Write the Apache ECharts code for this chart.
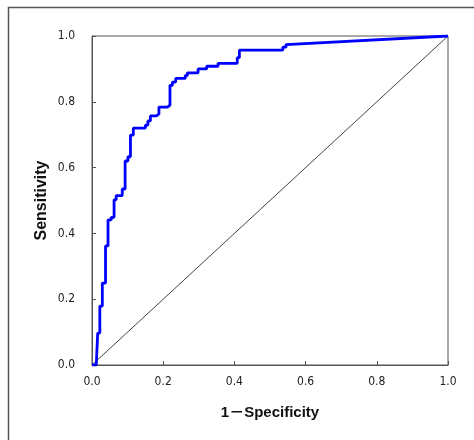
<!DOCTYPE html>
<html>
<head>
<meta charset="utf-8">
<script src="https://cdn.jsdelivr.net/npm/echarts@6/dist/echarts.min.js"></script>
<style>
  html, body { margin: 0; padding: 0; background: #fff; }
  #main { width: 474px; height: 440px; }
</style>
</head>
<body>
<div id="main"></div>
<script>
// ROC curve vertices (1-specificity, sensitivity)
const fpr = [0, 0.012, 0.012, 0.016, 0.016, 0.022, 0.022, 0.029, 0.029, 0.038, 0.038, 0.045, 0.045,
  0.054, 0.054, 0.062, 0.062, 0.068, 0.068, 0.085, 0.085, 0.093, 0.093, 0.101, 0.101, 0.108, 0.108,
  0.116, 0.116, 0.150, 0.150, 0.157, 0.157, 0.164, 0.164, 0.181, 0.181, 0.188, 0.188, 0.212, 0.212,
  0.219, 0.219, 0.226, 0.226, 0.235, 0.235, 0.262, 0.262, 0.268, 0.268, 0.298, 0.298, 0.322, 0.322,
  0.354, 0.354, 0.408, 0.408, 0.414, 0.414, 0.536, 0.536, 0.545, 0.545, 1];
const tpr = [0, 0, 0.006, 0.006, 0.097, 0.097, 0.179, 0.179, 0.249, 0.249, 0.362, 0.362, 0.441,
  0.441, 0.449, 0.449, 0.502, 0.502, 0.515, 0.515, 0.535, 0.535, 0.620, 0.620, 0.633, 0.633, 0.699,
  0.699, 0.720, 0.720, 0.729, 0.729, 0.742, 0.742, 0.757, 0.757, 0.763, 0.763, 0.784, 0.784, 0.790,
  0.790, 0.850, 0.850, 0.860, 0.860, 0.871, 0.871, 0.880, 0.880, 0.888, 0.888, 0.900, 0.900, 0.908,
  0.908, 0.917, 0.917, 0.934, 0.934, 0.957, 0.957, 0.966, 0.966, 0.974, 1];
// chance line
const refX = [0, 1];
const refY = [0, 1];

const xTitle = '1－Specificity';
const yTitle = 'Sensitivity';

function pairs(xs, ys) {
  let out = [];
  for (let i = 0; i < xs.length; ++i) out.push([xs[i], ys[i]]);
  return out;
}

const labelFont = "'Liberation Sans Narrow', 'DejaVu Sans Condensed', 'Liberation Sans', sans-serif";
const titleFont = "'Liberation Sans', Arial, 'Noto Sans CJK JP', sans-serif";

const myChart = echarts.init(document.getElementById('main'), null, { renderer: 'canvas' });
const axisCommon = {
  type: 'value',
  min: 0,
  max: 1,
  interval: 0.2,
  nameLocation: 'middle',
  nameMoveOverlap: false,
  nameTextStyle: { fontFamily: titleFont, fontSize: 15, fontWeight: 'bold', color: '#111' },
  axisLine: { show: true, lineStyle: { color: '#555', width: 1 } },
  axisTick: { show: true, inside: true, length: 4, lineStyle: { color: '#555' } },
  splitLine: { show: false },
  axisLabel: {
    fontFamily: labelFont, fontSize: 12, color: '#222',
    showMinLabel: true, showMaxLabel: true,
    formatter: v => v.toFixed(1)
  }
};

const option = {
  animation: false,
  backgroundColor: '#fff',
  grid: {
    left: 92, right: 26, top: 36, bottom: 75,
    show: true, borderColor: '#555', borderWidth: 1
  },
  xAxis: Object.assign({}, axisCommon, {
    name: xTitle,
    nameGap: 40,
    axisLabel: Object.assign({}, axisCommon.axisLabel, { margin: 11 })
  }),
  yAxis: Object.assign({}, axisCommon, {
    name: yTitle,
    nameGap: 42,
    nameRotate: 90,
    nameTextStyle: Object.assign({}, axisCommon.nameTextStyle, { fontSize: 16 }),
    axisLabel: Object.assign({}, axisCommon.axisLabel, { margin: 17 })
  }),
  graphic: [{
    type: 'rect',
    shape: { x: 8.5, y: 7.5, width: 600, height: 600 },
    style: { fill: null, stroke: '#555', lineWidth: 1.5 },
    silent: true
  }],
  series: [{
    type: 'line',
    data: pairs(refX, refY),
    symbol: 'none',
    lineStyle: { color: '#444', width: 1 },
    z: 2
  }, {
    type: 'line',
    data: pairs(fpr, tpr),
    symbol: 'none',
    lineStyle: { color: '#0000ff', width: 2.8 },
    z: 3
  }]
};
myChart.setOption(option);
</script>
</body>
</html>
